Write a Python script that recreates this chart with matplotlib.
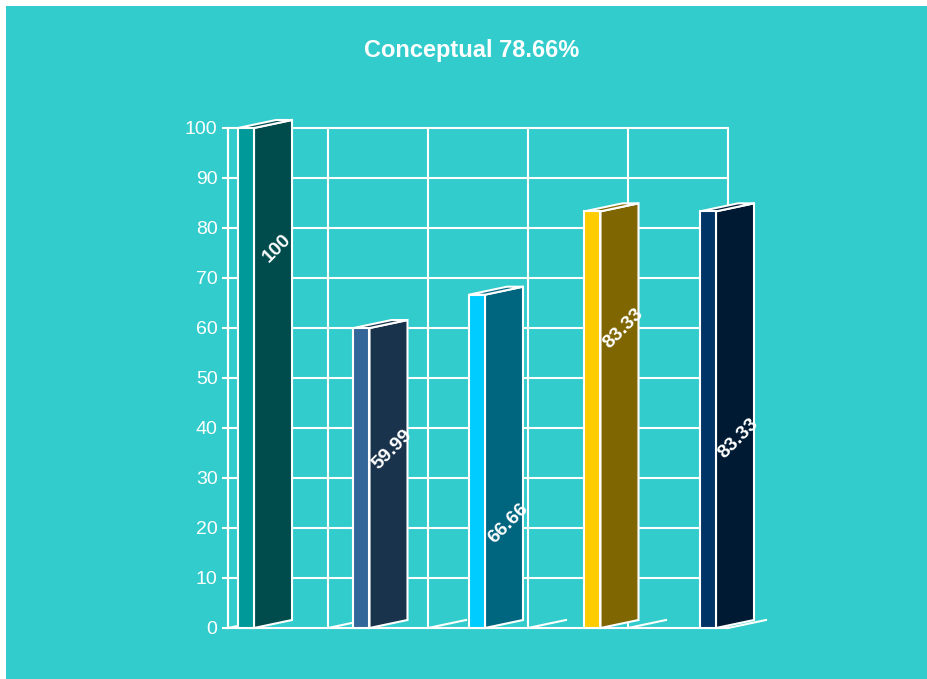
import matplotlib
matplotlib.use("Agg")
import matplotlib.pyplot as plt
from matplotlib.patches import Polygon, Rectangle

# --- data ---
categories = ["A", "B", "C", "D", "E"]
values = [100, 59.99, 66.66, 83.33, 83.33]
value_labels = ["100", "59.99", "66.66", "83.33", "83.33"]
front_colors = ["#009999", "#336699", "#00CCFF", "#FFCC00", "#003366"]
side_colors = ["#004C4C", "#1A334C", "#006680", "#806600", "#001A33"]
title = "Conceptual 78.66%"
y_ticks = list(range(0, 101, 10))

# --- layout (in axis units: x is 100 px per unit, y in value units) ---
label_heights = [76, 35.6, 21, 60, 38]
bar_start, bar_step = 0.10, 1.155
front_w, depth_x, depth_y = 0.16, 0.38, 1.6
grid_cols = 5

BG = "#33CCCC"
W, H = 928, 679
plt.rcParams["font.family"] = ["Liberation Sans", "DejaVu Sans"]

fig = plt.figure(figsize=(W / 100, H / 100), dpi=100, facecolor="white")
fig.add_artist(Rectangle((6 / W, 0), 1, (H - 6) / H, transform=fig.transFigure,
                         facecolor=BG, edgecolor="none", zorder=0))

ax = fig.add_axes([228 / W, (H - 628) / H, 600 / W, 500 / H])
ax.set_xlim(0, 6)
ax.set_ylim(0, 100)
ax.patch.set_alpha(0)
for s in ["top", "right", "bottom"]:
    ax.spines[s].set_visible(False)
ax.spines["left"].set_color("white")
ax.spines["left"].set_linewidth(1.5)
ax.set_xticks([])
ax.set_yticks(y_ticks)
ax.tick_params(axis="y", colors="white", labelcolor="white", length=4.5,
               width=1.5, labelsize=14, pad=3)

lw = 1.5
# back grid
for yv in y_ticks:
    ax.plot([0, grid_cols], [yv, yv], color="white", lw=lw, zorder=1,
            solid_capstyle="butt", clip_on=False)
for gx in range(grid_cols + 1):
    ax.plot([gx, gx], [0, 100], color="white", lw=lw, zorder=1, clip_on=False)
    # floor lines
    ax.plot([gx, gx + depth_x], [0, depth_y], color="white", lw=lw, zorder=1,
            clip_on=False)

# 3D bars
for i, (v, fc, sc) in enumerate(zip(values, front_colors, side_colors)):
    x0 = bar_start + bar_step * i
    x1 = x0 + front_w
    x2 = x1 + depth_x
    side = Polygon([(x1, 0), (x2, depth_y), (x2, v + depth_y), (x1, v)],
                   closed=True, facecolor=sc, edgecolor="white", lw=lw,
                   zorder=3, clip_on=False)
    top = Polygon([(x0, v), (x1, v), (x2, v + depth_y), (x0 + depth_x, v + depth_y)],
                  closed=True, facecolor=sc, edgecolor="white", lw=lw,
                  zorder=3, clip_on=False)
    front = Rectangle((x0, 0), front_w, v, facecolor=fc, edgecolor="white",
                      lw=lw, zorder=4, clip_on=False)
    ax.add_patch(side)
    ax.add_patch(top)
    ax.add_patch(front)
    ax.text((x1 + x2) / 2 + 0.04, label_heights[i], value_labels[i], color="white",
            fontsize=14, fontweight="bold", rotation=45, ha="center",
            va="center", rotation_mode="anchor", zorder=6)

fig.text(472 / W, 1 - 51 / H, title, color="white", fontsize=17,
         fontweight="bold", ha="center", va="center")

fig.savefig("out.png", dpi=100, facecolor=fig.get_facecolor())
